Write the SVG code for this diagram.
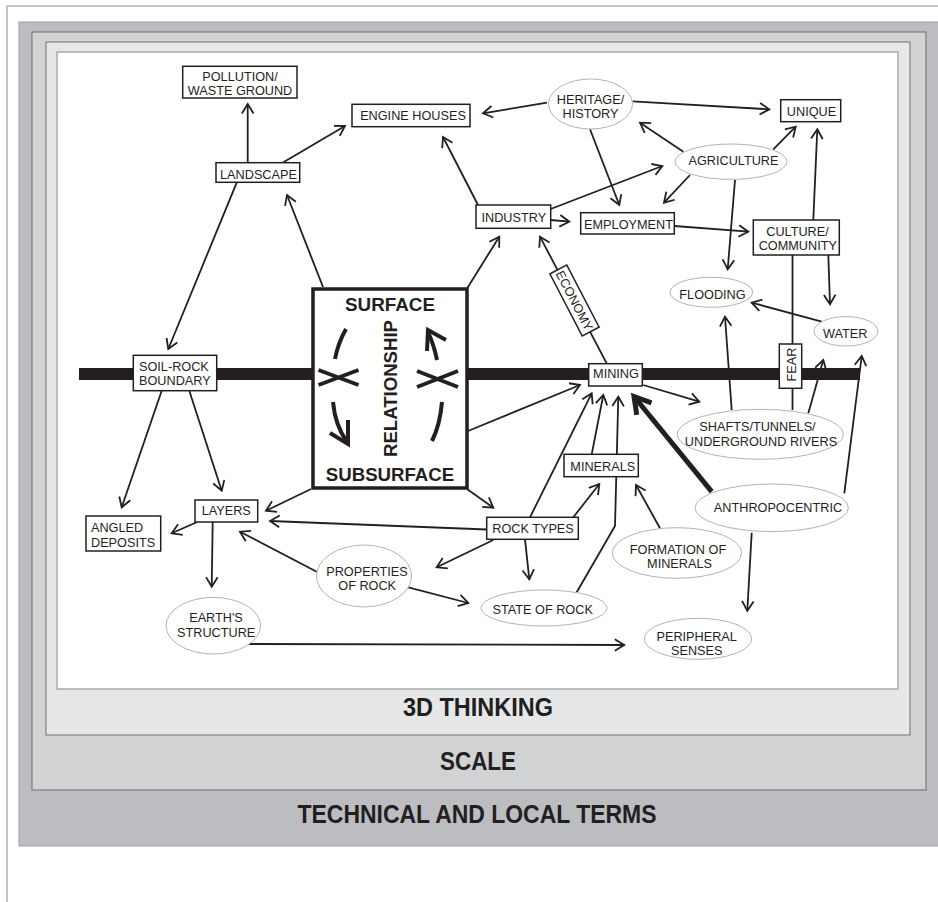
<svg xmlns="http://www.w3.org/2000/svg" width="938" height="902" viewBox="0 0 938 902">
<style>
.lbl{font-family:"Liberation Sans",Arial,sans-serif;font-size:12.7px;fill:#231f20;text-anchor:middle}
.lft{text-anchor:start}
.big{font-family:"Liberation Sans",Arial,sans-serif;font-weight:bold;fill:#231f20;text-anchor:middle}
.box{fill:#fff;stroke:#231f20;stroke-width:1.5}
.ell{fill:#fff;stroke:#a7a9ac;stroke-width:0.9}
.c{fill:none;stroke:#231f20;stroke-width:1.8;marker-end:url(#ah)}
.p{fill:none;stroke:#231f20;stroke-width:1.8}
.rel{fill:none;stroke:#231f20;stroke-width:4}
</style>
<defs>
<marker id="ah" markerUnits="userSpaceOnUse" viewBox="-12 -8 14 16" markerWidth="14" markerHeight="16" refX="0" refY="0" orient="auto">
<path d="M-9.5,-5.8 L0,0 L-9.5,5.8" fill="none" stroke="#231f20" stroke-width="1.8"/>
</marker>
<marker id="ahb" markerUnits="userSpaceOnUse" viewBox="-20 -12 24 24" markerWidth="24" markerHeight="24" refX="0" refY="0" orient="auto">
<path d="M-16,-9.5 L0,0 L-16,9.5" fill="none" stroke="#231f20" stroke-width="5"/>
</marker>
</defs>
<rect width="938" height="902" fill="#fff"/>
<path d="M7,902 L7,6 L938,6" fill="none" stroke="#8a8a8c" stroke-width="1"/>
<g id="frames">
<rect x="19" y="22" width="930" height="824" fill="#bcbdc0" stroke="#9d9ea1" stroke-width="1"/>
<rect x="32" y="32" width="894" height="758" fill="#d1d2d4" stroke="#6d6e71" stroke-width="1"/>
<rect x="46" y="42" width="864" height="693" fill="#e6e7e8" stroke="#6d6e71" stroke-width="1"/>
<rect x="57" y="52" width="841" height="637" fill="#fff" stroke="#a7a9ac" stroke-width="1.5"/>
<text class="big" x="478" y="716" font-size="25" textLength="150" lengthAdjust="spacingAndGlyphs">3D THINKING</text>
<text class="big" x="478" y="769.5" font-size="25" textLength="76" lengthAdjust="spacingAndGlyphs">SCALE</text>
<text class="big" x="477" y="823" font-size="26" textLength="359" lengthAdjust="spacingAndGlyphs">TECHNICAL AND LOCAL TERMS</text>
</g>
<rect id="boundary" x="79" y="368" width="781" height="12" fill="#231f20"/>
<g id="connectors">
<path class="c" d="M247.7,162.7 L247.7,104"/>
<path class="c" d="M283,162.5 L345,126"/>
<path class="c" d="M236.7,182.7 L168.3,349"/>
<path class="c" d="M323,287 L287,195"/>
<path class="c" d="M478,205 L443,137"/>
<path class="c" d="M547,102.7 L483,113.3"/>
<path class="c" d="M632.7,101.3 L769.3,109.3"/>
<path class="c" d="M590,129.3 L619.3,205"/>
<path class="c" d="M683.3,151.7 L640,122.7"/>
<path class="c" d="M773.3,149.3 L795.7,126.7"/>
<path class="c" d="M550.7,209 L662.3,166"/>
<path class="c" d="M690,175 L664,202.7"/>
<path class="c" d="M735,180 L727.7,269.3"/>
<path class="c" d="M550.7,220 L569.3,221.7"/>
<path class="c" d="M674.3,226 L748.3,231.7"/>
<path class="c" d="M813.3,220 L817.3,129.3"/>
<path class="c" d="M828.3,255 L830,304.3"/>
<path class="p" d="M792.5,255 L792.5,410"/>
<path class="c" d="M821.7,321.7 L751.7,302.7"/>
<path class="c" d="M731.7,410 L725,316.7"/>
<path class="c" d="M606.7,363.3 L540,236.7"/>
<path class="c" d="M466.7,289 L499.3,236.7"/>
<path class="c" d="M468,431 L580,385"/>
<path class="c" d="M311,489 L266,510.7"/>
<path class="c" d="M467,489 L493.3,507.7"/>
<path class="c" d="M643.3,385 L699.3,401.7"/>
<path class="c" d="M808.3,413.3 L823.3,360"/>
<path class="c" d="M844.3,493.3 L861.7,356"/>
<path d="M711.7,491.7 L634,396.5" fill="none" stroke="#231f20" stroke-width="5" marker-end="url(#ahb)"/>
<path class="c" d="M751.7,532.7 L747.3,610.7"/>
<path class="c" d="M591.7,454.3 L603.3,395"/>
<path class="c" d="M530,517.3 L591.7,393.3"/>
<path class="c" d="M576.7,592.3 L615,526 L618.3,396.7"/>
<path class="c" d="M573.3,517.3 L599.3,484"/>
<path class="c" d="M660,528.3 L636,485"/>
<path class="c" d="M486.7,529.5 L270,521"/>
<path class="c" d="M493.3,540 L436.7,567.3"/>
<path class="c" d="M525,539.3 L529.3,579.3"/>
<path class="c" d="M408.3,587.3 L468.3,603"/>
<path class="c" d="M316.7,571.7 L240,531.7"/>
<path class="c" d="M212.7,522 L211.7,586.7"/>
<path class="c" d="M196.7,522.3 L171.7,533.3"/>
<path class="c" d="M248.3,644 L624.3,645"/>
<path class="c" d="M161.7,390.7 L121.7,507.3"/>
<path class="c" d="M189.3,390.7 L221.7,490.7"/>
</g>
<g id="pollution"><rect class="box" x="182.7" y="66.3" width="114.3" height="31.7"/><text class="lbl" x="240" y="81">POLLUTION/</text><text class="lbl" x="240" y="95">WASTE GROUND</text></g>
<g id="engine-houses"><rect class="box" x="352" y="104.3" width="118" height="22.4"/><text class="lbl" x="413" y="119.5">ENGINE HOUSES</text></g>
<g id="landscape"><rect class="box" x="216" y="162.7" width="83.7" height="19.6"/><text class="lbl" x="258.5" y="178.5">LANDSCAPE</text></g>
<g id="heritage"><ellipse class="ell" cx="590.5" cy="104" rx="42" ry="25"/><text class="lbl" x="590.5" y="104">HERITAGE/</text><text class="lbl" x="590.5" y="118.3">HISTORY</text></g>
<g id="unique"><rect class="box" x="780.7" y="99.7" width="60" height="22"/><text class="lbl" x="811.5" y="115.7">UNIQUE</text></g>
<g id="agriculture"><ellipse class="ell" cx="731" cy="161.7" rx="56" ry="17.7"/><text class="lbl" x="733.5" y="165">AGRICULTURE</text></g>
<g id="industry"><rect class="box" x="476" y="205" width="74.7" height="23.3"/><text class="lbl" x="513.8" y="222.3">INDUSTRY</text></g>
<g id="employment"><rect class="box" x="580.7" y="212.7" width="93.6" height="21.3"/><text class="lbl" x="628.5" y="229">EMPLOYMENT</text></g>
<g id="culture"><rect class="box" x="753.3" y="220" width="86" height="35"/><text class="lbl" x="797.5" y="236">CULTURE/</text><text class="lbl" x="797.8" y="250.3">COMMUNITY</text></g>
<g id="flooding"><ellipse class="ell" cx="711.3" cy="292.3" rx="41.3" ry="15"/><text class="lbl" x="712.5" y="298.7">FLOODING</text></g>
<g id="water"><ellipse class="ell" cx="846" cy="331.3" rx="32" ry="14.7"/><text class="lbl" x="845.3" y="338.3">WATER</text></g>
<g id="economy" transform="translate(574.5,300.5) rotate(62.5)"><rect class="box" x="-35" y="-9.5" width="70" height="19"/><text class="lbl" x="0" y="4.6">ECONOMY</text></g>
<g id="fear"><rect class="box" x="779.3" y="344" width="22.4" height="44.3"/><text class="lbl" transform="translate(796,364.5) rotate(-90)" x="0" y="0">FEAR</text></g>
<g id="soil-rock"><rect class="box" x="133.3" y="355.3" width="83.4" height="35.4"/><text class="lbl lft" x="139" y="370.7">SOIL-ROCK</text><text class="lbl lft" x="139" y="385">BOUNDARY</text></g>
<g id="relationship">
<rect x="313" y="289" width="154" height="199" fill="#fff" stroke="#231f20" stroke-width="3.5"/>
<text class="big" x="390" y="310.5" font-size="19" textLength="90" lengthAdjust="spacingAndGlyphs">SURFACE</text>
<text class="big" x="390" y="481" font-size="19" textLength="128.5" lengthAdjust="spacingAndGlyphs">SUBSURFACE</text>
<text class="big" transform="translate(397,388.5) rotate(-90)" x="0" y="0" font-size="19" textLength="137" lengthAdjust="spacingAndGlyphs">RELATIONSHIP</text>
<path class="rel" d="M346,329 Q338,343 335,359"/>
<path class="rel" d="M333,402 Q335,425 347,442"/>
<path class="rel" d="M330,433 L348,444 L348,420"/>
<path class="rel" d="M318.5,370 L358.5,385 M318.5,385 L358.5,370"/>
<path class="rel" d="M428,332 Q434,345 437,360"/>
<path class="rel" d="M446,340 L428,330 L427,351"/>
<path class="rel" d="M442,402 Q440,425 432,441"/>
<path class="rel" d="M417,371 L458,387 M417,387 L458,371"/>
</g>
<g id="mining"><rect class="box" x="588.7" y="363.7" width="53.6" height="22.3"/><text class="lbl" x="616" y="378.3">MINING</text></g>
<g id="shafts"><ellipse class="ell" cx="760.3" cy="434.3" rx="83" ry="25"/><text class="lbl" x="757.5" y="431">SHAFTS/TUNNELS/</text><text class="lbl" x="761" y="445.7">UNDERGROUND RIVERS</text></g>
<g id="minerals"><rect class="box" x="564" y="454.3" width="74.3" height="22.4"/><text class="lbl" x="602.8" y="470.7">MINERALS</text></g>
<g id="anthropocentric"><ellipse class="ell" cx="771.7" cy="507.8" rx="76.7" ry="23.8"/><text class="lbl" x="778" y="512.3">ANTHROPOCENTRIC</text></g>
<g id="rock-types"><rect class="box" x="486.7" y="517.3" width="91.6" height="22"/><text class="lbl" x="533" y="533.3">ROCK TYPES</text></g>
<g id="formation"><ellipse class="ell" cx="677" cy="553" rx="64.7" ry="25.3"/><text class="lbl" x="678" y="554.3">FORMATION OF</text><text class="lbl" x="679.5" y="568.3">MINERALS</text></g>
<g id="state-of-rock"><ellipse class="ell" cx="544" cy="608" rx="63" ry="18"/><text class="lbl" x="542.7" y="614">STATE OF ROCK</text></g>
<g id="peripheral"><ellipse class="ell" cx="698" cy="638.8" rx="53.7" ry="20.5"/><text class="lbl" x="696.7" y="640.7">PERIPHERAL</text><text class="lbl" x="696.7" y="655">SENSES</text></g>
<g id="layers"><rect class="box" x="195" y="500" width="62.7" height="22"/><text class="lbl" x="226.2" y="515">LAYERS</text></g>
<g id="angled"><rect class="box" x="86" y="516" width="74.7" height="35"/><text class="lbl lft" x="91" y="532.3">ANGLED</text><text class="lbl lft" x="91" y="546.7">DEPOSITS</text></g>
<g id="properties"><ellipse class="ell" cx="364" cy="576" rx="47.5" ry="31"/><text class="lbl" x="367" y="575.7">PROPERTIES</text><text class="lbl" x="367.2" y="590">OF ROCK</text></g>
<g id="earth"><ellipse class="ell" cx="213.3" cy="625.7" rx="47.3" ry="28.3"/><text class="lbl" x="216" y="622.3">EARTH'S</text><text class="lbl" x="216.2" y="637.3">STRUCTURE</text></g>
</svg>
